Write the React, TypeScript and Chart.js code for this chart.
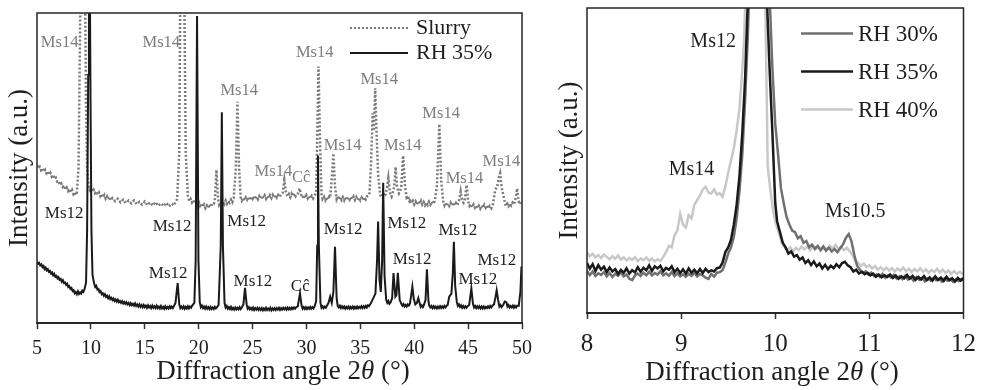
import React, { useEffect, useRef } from 'react';
import { Chart, registerables } from 'chart.js';

Chart.register(...registerables);

const SERIF = "'Liberation Serif', 'Times New Roman', serif";

type Pt = [number, number];

// ---------- Left panel (wide scan 5–50°) ----------
const wideTicks = [5, 10, 15, 20, 25, 30, 35, 40, 45, 50];

const rh35Wide: Pt[] = [
  [5.0, 19.8], [5.1, 19.1], [5.2, 19.4], [5.3, 18.6], [5.4, 18.9], [5.5, 18.0], [5.6, 18.4], [5.7, 17.4], [5.8, 17.9],
  [5.9, 17.0], [6.0, 17.4], [6.1, 16.5], [6.2, 16.8], [6.3, 15.9], [6.4, 16.3], [6.5, 15.4], [6.6, 15.9],
  [6.7, 14.9], [6.8, 15.2], [6.9, 14.4], [7.0, 14.8], [7.1, 13.9], [7.2, 14.2], [7.3, 13.3], [7.4, 13.8],
  [7.5, 12.9], [7.6, 13.1], [7.7, 12.3], [7.8, 12.7], [7.9, 11.6], [8.0, 11.9], [8.1, 11.0], [8.2, 11.3],
  [8.3, 10.3], [8.4, 10.6], [8.5, 9.6], [8.6, 10.0], [8.7, 9.3], [8.8, 10.2], [8.9, 9.4], [9.0, 9.9],
  [9.1, 9.5], [9.2, 10.4], [9.3, 10.0], [9.4, 10.8], [9.55, 13],
  [9.65, 30], [9.75, 80], [9.82, 112], [9.9, 112], [9.97, 70], [10.05, 30], [10.15, 15.5], [10.3, 12.8],
  [10.4, 11.6], [10.5, 12.0], [10.6, 10.8], [10.7, 11.0], [10.8, 10.0], [10.9, 10.3], [11.0, 9.3], [11.1, 9.6],
  [11.2, 8.8], [11.3, 9.3], [11.4, 8.4], [11.5, 8.8], [11.6, 8.0], [11.7, 8.6], [11.8, 7.7], [11.9, 8.1],
  [12.0, 7.4], [12.1, 7.9], [12.2, 7.1], [12.3, 7.6], [12.4, 6.9], [12.5, 7.5], [12.6, 6.7], [12.7, 7.1],
  [12.8, 6.5], [12.9, 7.0], [13.0, 6.3], [13.1, 6.8], [13.2, 6.2], [13.3, 6.7], [13.4, 6.0], [13.5, 6.5],
  [13.6, 5.8], [13.7, 6.4], [13.8, 5.7], [13.9, 6.2], [14.0, 5.6], [14.1, 6.3], [14.2, 5.5], [14.3, 6.0],
  [14.4, 5.3], [14.5, 6.0], [14.6, 5.2], [14.7, 5.8], [14.8, 5.1], [14.9, 5.8], [15.0, 5.1], [15.1, 5.6],
  [15.2, 4.9], [15.3, 5.7], [15.4, 5.0], [15.5, 5.5], [15.6, 4.8], [15.7, 5.6], [15.8, 4.9], [15.9, 5.4],
  [16.0, 4.8], [16.1, 5.6], [16.2, 4.8], [16.3, 5.3], [16.4, 4.7], [16.5, 5.5], [16.6, 4.7], [16.7, 5.2],
  [16.8, 4.6], [16.9, 5.4], [17.0, 4.7], [17.1, 5.2], [17.2, 4.7], [17.3, 5.4], [17.4, 4.8], [17.5, 5.3],
  [17.6, 4.8], [17.7, 5.4], [17.85, 6.5], [18.05, 12.9], [18.2, 6.0],
  [18.3, 4.8], [18.4, 5.3], [18.5, 4.7], [18.6, 5.4], [18.7, 4.6], [18.8, 5.2], [18.9, 4.7], [19.0, 5.4],
  [19.1, 4.7], [19.2, 5.3], [19.3, 4.9], [19.4, 5.6], [19.6, 6.5], [19.72, 20],
  [19.85, 99], [19.98, 20], [20.1, 6.8], [20.2, 5.1], [20.3, 5.6], [20.4, 4.8], [20.5, 5.3], [20.6, 4.6],
  [20.7, 5.3], [20.8, 4.6], [20.9, 5.1], [21.0, 4.5], [21.1, 5.2], [21.2, 4.5], [21.3, 5.0], [21.4, 4.5],
  [21.5, 5.2], [21.6, 4.7], [21.7, 5.1], [21.85, 5.8], [22.05, 25], [22.15, 68], [22.25, 25], [22.4, 6.5],
  [22.5, 5.0], [22.6, 5.5], [22.7, 4.6], [22.8, 5.1], [22.9, 4.5], [23.0, 5.2], [23.1, 4.4], [23.2, 4.9],
  [23.3, 4.3], [23.4, 5.0], [23.5, 4.4], [23.6, 4.9], [23.7, 4.4], [23.8, 5.1], [23.9, 4.5], [24.0, 5.0],
  [24.15, 6.0], [24.3, 11.3], [24.45, 6.0], [24.55, 4.6], [24.65, 5.1], [24.75, 4.4], [24.85, 4.9], [24.95, 4.3],
  [25.05, 5.0], [25.15, 4.2], [25.25, 4.8], [25.35, 4.3], [25.45, 4.9], [25.55, 4.2], [25.65, 4.8], [25.75, 4.2],
  [25.85, 4.8], [25.95, 4.1], [26.05, 4.7], [26.15, 4.2], [26.25, 4.9], [26.35, 4.2], [26.45, 4.7], [26.55, 4.2],
  [26.65, 4.9], [26.75, 4.1], [26.85, 4.7], [26.95, 4.2], [27.05, 4.8], [27.15, 4.2], [27.25, 4.8], [27.35, 4.3],
  [27.45, 4.9], [27.55, 4.2], [27.65, 4.8], [27.75, 4.3], [27.85, 4.9], [27.95, 4.4], [28.05, 4.9], [28.15, 4.3],
  [28.25, 5.0], [28.35, 4.4], [28.45, 4.9], [28.55, 4.4], [28.65, 5.0], [28.75, 4.5], [28.85, 5.0], [28.95, 4.6],
  [29.05, 5.1], [29.2, 5.4], [29.4, 9.6], [29.55, 5.6], [29.65, 4.6], [29.75, 5.1], [29.85, 4.5], [29.95, 5.1],
  [30.05, 4.5], [30.15, 5.0], [30.25, 4.6], [30.35, 5.2], [30.45, 4.6], [30.55, 5.1], [30.65, 4.7], [30.75, 5.3],
  [30.9, 7], [31.0, 25], [31.07, 54], [31.15, 25], [31.3, 6.5],
  [31.4, 4.9], [31.5, 5.4], [31.6, 4.8], [31.7, 5.3], [31.8, 4.9], [31.9, 5.6], [32.05, 6.5], [32.2, 8.5],
  [32.35, 6.5], [32.5, 10], [32.65, 24.6], [32.8, 8], [32.9, 5.5], [33.0, 5.0], [33.1, 5.6], [33.2, 4.8],
  [33.3, 5.4], [33.4, 4.8], [33.5, 5.3], [33.6, 4.6], [33.7, 5.2], [33.8, 4.7], [33.9, 5.3], [34.0, 4.6],
  [34.1, 5.2], [34.2, 4.7], [34.3, 5.3], [34.4, 4.6], [34.5, 5.2], [34.6, 4.7], [34.7, 5.3], [34.8, 4.7],
  [34.9, 5.2], [35.0, 4.8], [35.1, 5.4], [35.2, 4.8], [35.3, 5.4], [35.4, 4.9], [35.5, 5.5], [35.6, 5.0],
  [35.7, 5.7], [35.8, 5.4],
  [36.0, 6.5], [36.2, 8.0], [36.4, 9.5], [36.55, 20], [36.65, 32.7], [36.78, 14], [36.9, 10], [37.02, 20],
  [37.12, 45.2], [37.25, 15], [37.4, 7.5], [37.5, 6.5], [37.6, 7.1], [37.7, 6.2], [37.8, 6.6], [37.95, 8], [38.08, 16.1], [38.25, 8.5],
  [38.35, 9], [38.48, 16.2], [38.65, 7.5], [38.8, 6.2], [38.9, 5.6], [39.0, 6.1], [39.1, 5.3], [39.2, 5.8],
  [39.3, 5.3], [39.4, 6.0], [39.5, 5.6], [39.6, 6.2],
  [39.72, 9], [39.83, 11.7], [39.95, 8], [40.1, 6.0], [40.25, 6.5], [40.38, 8.0], [40.52, 6.2], [40.6, 5.2],
  [40.7, 5.7], [40.8, 5.1], [40.9, 5.8], [41.05, 7.5], [41.18, 17.3], [41.32, 7], [41.4, 5.5], [41.5, 5.0],
  [41.6, 5.5], [41.7, 4.8], [41.8, 5.4], [41.9, 4.8], [42.0, 5.3], [42.1, 4.7], [42.2, 5.3], [42.3, 4.8],
  [42.4, 5.4], [42.5, 4.8], [42.6, 5.4], [42.7, 4.9], [42.8, 5.5], [42.9, 5.0], [43.0, 5.6], [43.1, 5.8],
  [43.25, 8.5], [43.45, 9.5], [43.58, 16],
  [43.68, 26.2], [43.8, 12], [43.95, 6.8], [44.05, 5.5], [44.15, 6.0], [44.25, 5.2], [44.35, 5.7], [44.45, 4.9],
  [44.55, 5.5], [44.65, 4.9], [44.75, 5.4], [44.85, 4.9], [44.95, 5.4], [45.1, 5.8], [45.3, 11.2], [45.45, 6.2],
  [45.55, 5.0], [45.65, 5.5], [45.75, 4.8], [45.85, 5.4], [45.95, 4.8], [46.05, 5.4], [46.15, 4.7], [46.25, 5.3],
  [46.35, 4.7], [46.45, 5.3], [46.55, 4.7], [46.65, 5.2], [46.75, 4.8], [46.85, 5.4], [46.95, 4.9], [47.05, 5.5],
  [47.15, 5.0], [47.25, 5.6], [47.4, 6.0], [47.55, 8.5], [47.65, 10.6], [47.78, 7.5],
  [47.9, 5.3], [48.0, 5.8], [48.1, 5.1], [48.25, 5.8], [48.4, 6.9], [48.55, 6.7], [48.65, 5.3], [48.75, 5.8],
  [48.85, 5.0], [48.95, 5.5], [49.05, 5.0], [49.15, 5.6], [49.25, 4.9], [49.35, 5.5], [49.45, 5.0], [49.55, 5.6],
  [49.7, 5.6], [49.85, 10], [49.95, 18.2], [50.0, 16],
];

const slurryWide: Pt[] = [
  [5.0, 50.9], [5.125, 49.9], [5.25, 50.4], [5.375, 49.3], [5.5, 49.9], [5.625, 48.8], [5.75, 49.4], [5.875, 48.3],
  [6.0, 48.9], [6.125, 47.8], [6.25, 48.4], [6.375, 47.2], [6.5, 47.7], [6.625, 46.5], [6.75, 46.9], [6.875, 45.6],
  [7.0, 45.8], [7.125, 44.6], [7.25, 45.0], [7.375, 43.9], [7.5, 44.4], [7.625, 43.2], [7.75, 43.7], [7.875, 42.6],
  [8.0, 43.3], [8.125, 42.2], [8.25, 42.9], [8.375, 41.6], [8.5, 42.2], [8.6, 41.3], [8.7, 42.0],
  [8.85, 50], [8.95, 80], [9.05, 112], [9.45, 112], [9.55, 70], [9.65, 50], [9.8, 44],
  [9.9, 43.0], [10.0, 43.6], [10.125, 42.4], [10.25, 43.0], [10.375, 41.9], [10.5, 42.5], [10.625, 41.4], [10.75, 42.1],
  [10.875, 40.9], [11.0, 41.6], [11.125, 40.5], [11.25, 41.3], [11.375, 40.1], [11.5, 40.8], [11.625, 39.8], [11.75, 40.7],
  [11.875, 39.5], [12.0, 40.3], [12.25, 39.3], [12.5, 40.1], [12.75, 38.9], [13.0, 39.8], [13.25, 38.7], [13.5, 39.5],
  [13.75, 38.6], [14.0, 39.5], [14.25, 38.3], [14.5, 39.1], [14.75, 38.2], [15.0, 39.2], [15.25, 38.0], [15.5, 38.9],
  [15.75, 37.9], [16.0, 39.0], [16.25, 37.8], [16.5, 38.6], [16.75, 37.7], [17.0, 38.8], [17.25, 37.6], [17.5, 38.5],
  [17.7, 37.9], [17.85, 38.9],
  [18.0, 40], [18.2, 55], [18.3, 112], [18.65, 112], [18.8, 55], [19.0, 41],
  [19.125, 39.3], [19.25, 40.0], [19.375, 38.9], [19.5, 39.7], [19.625, 38.6], [19.75, 39.3], [19.875, 38.2], [20.0, 39.0],
  [20.125, 37.8], [20.25, 38.6], [20.375, 37.4], [20.5, 38.2], [20.625, 37.1], [20.75, 37.9], [20.875, 37.0], [21.0, 38.3],
  [21.125, 37.4], [21.25, 38.5], [21.4, 38.4], [21.5, 39.5], [21.65, 49.4], [21.8, 40], [21.9, 38.2], [22.0, 39.0],
  [22.125, 38.2], [22.25, 39.3], [22.375, 38.4], [22.5, 39.5], [22.625, 38.5], [22.75, 39.4], [22.875, 38.8], [23.0, 39.8],
  [23.125, 39.0], [23.25, 40.2], [23.45, 50], [23.6, 71.4], [23.75, 50], [23.9, 40.5], [24.0, 39.5], [24.125, 40.4],
  [24.25, 39.5], [24.375, 40.5], [24.5, 39.8], [24.625, 40.7], [24.75, 39.6], [24.875, 40.5], [25.0, 40.0], [25.125, 41.0],
  [25.25, 39.9], [25.375, 40.8], [25.5, 39.9], [25.625, 40.9], [25.75, 40.1], [25.875, 41.1], [26.0, 40.2], [26.125, 41.1],
  [26.25, 40.1], [26.375, 41.0], [26.5, 40.2], [26.625, 41.2], [26.75, 40.3], [26.875, 41.3], [27.0, 40.4], [27.125, 41.4],
  [27.25, 40.5], [27.375, 41.3], [27.5, 40.6], [27.65, 41.6], [27.8, 42], [27.95, 46.1], [28.1, 42], [28.25, 40.8],
  [28.375, 41.6], [28.5, 40.6], [28.625, 41.7], [28.75, 40.9], [28.875, 41.8], [29.0, 40.9], [29.125, 41.5], [29.25, 42],
  [29.37, 43.4], [29.5, 41.5], [29.625, 40.4], [29.75, 41.3], [29.875, 40.3], [30.0, 41.2], [30.125, 40.2], [30.25, 41.0],
  [30.375, 40.1], [30.5, 41.0], [30.625, 40.2], [30.75, 41.1], [30.9, 42], [31.0, 60], [31.12, 82.7], [31.25, 60],
  [31.4, 41.5], [31.5, 40.0], [31.625, 40.7], [31.75, 39.6], [31.875, 40.6], [32.0, 39.8], [32.125, 40.8], [32.2, 40.5],
  [32.38, 48], [32.5, 54.7], [32.65, 44], [32.8, 40.0], [32.9, 40.9], [33.0, 39.8], [33.125, 40.7], [33.25, 39.7],
  [33.375, 40.6], [33.5, 39.6], [33.625, 40.6], [33.75, 39.6], [33.875, 40.5], [34.0, 39.8], [34.125, 40.7], [34.25, 39.9],
  [34.375, 40.8], [34.5, 39.7], [34.625, 40.6], [34.75, 39.6], [34.875, 40.5], [35.0, 39.6], [35.125, 40.5], [35.25, 39.7],
  [35.375, 40.6], [35.5, 39.9], [35.6, 40.8], [35.75, 41.0], [35.85, 42], [36.0, 52], [36.15, 67.7], [36.25, 62],
  [36.38, 75.7], [36.5, 62], [36.65, 48], [36.84, 41.3], [36.95, 40.6], [37.1, 42], [37.2, 40.9], [37.35, 41.5],
  [37.5, 44], [37.6, 46.7], [37.75, 42], [37.9, 40.8], [38.0, 41.9], [38.15, 44], [38.27, 50.3], [38.4, 44],
  [38.58, 41.8], [38.7, 42.5], [38.8, 44], [38.97, 54], [39.15, 44], [39.3, 40.4], [39.43, 40.8], [39.55, 39.4],
  [39.65, 40.0], [39.75, 38.6], [39.875, 39.4], [40.0, 38.3], [40.125, 39.2], [40.25, 38.2], [40.375, 39.3], [40.5, 38.4],
  [40.625, 39.4], [40.75, 38.2], [40.875, 39.0], [41.0, 38.0], [41.125, 38.9], [41.25, 38.1], [41.375, 39.1], [41.5, 38.2],
  [41.625, 39.2], [41.75, 38.4], [41.9, 39.3], [42.1, 44], [42.33, 64.2], [42.5, 46], [42.7, 39.0], [42.8, 38.0],
  [42.875, 38.8], [43.0, 37.7], [43.125, 38.6], [43.25, 37.8], [43.375, 38.8], [43.5, 37.9], [43.625, 38.9], [43.75, 37.9],
  [43.875, 38.7], [44.0, 38.0], [44.1, 38.9], [44.2, 40], [44.31, 42.4], [44.45, 39.5], [44.575, 38.8], [44.7, 40],
  [44.86, 44.5], [45.0, 39.4], [45.125, 37.8], [45.25, 38.4], [45.375, 37.3], [45.5, 38.2], [45.625, 37.2], [45.75, 37.9],
  [45.875, 37.0], [46.0, 37.8], [46.125, 36.9], [46.25, 37.9], [46.375, 37.1], [46.5, 38.1], [46.625, 37.2], [46.75, 37.9],
  [46.875, 36.9], [47.0, 37.7], [47.15, 37.0], [47.3, 38.2], [47.51, 42.9], [47.7, 44], [47.85, 47], [47.97, 48.3],
  [48.1, 44], [48.2, 42.4], [48.4, 39], [48.5, 37.7], [48.625, 38.5], [48.75, 37.7], [48.875, 38.6], [49.0, 37.9],
  [49.125, 38.8], [49.25, 38.2], [49.35, 39.3], [49.45, 41], [49.55, 43.4], [49.65, 40.5], [49.75, 38.3], [49.85, 39.1],
  [50.0, 38.7],
];

// peak labels: [2θ, intensity]
const wideMs14Labels: Pt[] = [
  [7.1, 90.3], [16.53, 90.3], [23.76, 74.9], [26.93, 48.8], [30.77, 87.2], [33.36, 57.1],
  [36.75, 78.6], [38.94, 57.1], [42.5, 67.6], [44.66, 46.7], [48.09, 52.0],
];
const wideCcSlurryLabel: Pt = [29.52, 46.8];
const wideMs12Labels: Pt[] = [
  [7.52, 35.4], [17.53, 31.1], [24.46, 32.7], [17.17, 15.8], [25.04, 13.5], [33.41, 30.2],
  [39.31, 32.2], [39.81, 20.5], [44.04, 29.8], [45.9, 13.9], [47.66, 20.3],
];
const wideCcRh35Label: Pt = [29.43, 11.7];

// ---------- Right panel (zoom 8–12°) ----------
const zoomTicks = [8, 9, 10, 11, 12];

const rh30Zoom: Pt[] = [
  [8.0, 13.8], [8.03, 12.4], [8.06, 13.6], [8.09, 12.1], [8.12, 13.0], [8.15, 12.5], [8.18, 13.4], [8.21, 12.0],
  [8.24, 13.1], [8.27, 11.8], [8.3, 12.9], [8.33, 12.2], [8.36, 13.3], [8.39, 12.0], [8.42, 12.6], [8.45, 11.2],
  [8.48, 10.8], [8.51, 12.3], [8.54, 12.9], [8.57, 12.1], [8.6, 13.2], [8.63, 12.4], [8.66, 13.5], [8.69, 12.3],
  [8.72, 13.1], [8.75, 12.6], [8.78, 13.7], [8.81, 12.4], [8.84, 13.0], [8.87, 12.2], [8.9, 13.4], [8.93, 12.1],
  [8.96, 13.0], [8.99, 12.0], [9.02, 12.7], [9.05, 11.9], [9.08, 12.9], [9.11, 12.2], [9.14, 13.1], [9.17, 12.0],
  [9.2, 12.8], [9.23, 12.3], [9.26, 11.6], [9.29, 11.2], [9.32, 12.8], [9.35, 11.9], [9.38, 13.2], [9.41, 13.4],
  [9.44, 14.0], [9.47, 16.5], [9.5, 19.5], [9.53, 21.5], [9.56, 25.0], [9.59, 31.0], [9.62, 40.0], [9.65, 52.0],
  [9.68, 70.0], [9.71, 92], [9.73, 112], [9.93, 112], [9.97, 80], [10.0, 62], [10.03, 52], [10.06, 41],
  [10.09, 36], [10.12, 31.5], [10.15, 29.0], [10.18, 27.0], [10.21, 26.5], [10.24, 24.5], [10.27, 25.2], [10.3, 23.0],
  [10.33, 23.6], [10.36, 21.6], [10.39, 22.4], [10.42, 21.0], [10.45, 22.0], [10.48, 20.6], [10.51, 21.8], [10.54, 20.4],
  [10.57, 21.4], [10.6, 20.2], [10.63, 21.0], [10.66, 19.9], [10.69, 21.2], [10.72, 22.5], [10.75, 24.6], [10.78, 25.9],
  [10.81, 23.5], [10.84, 19.0], [10.87, 15.5], [10.9, 14.1], [10.93, 13.2], [10.96, 13.7], [10.99, 12.6], [11.02, 13.2],
  [11.05, 12.1], [11.08, 12.7], [11.11, 11.9], [11.14, 12.8], [11.17, 11.5], [11.2, 12.4], [11.23, 11.6], [11.26, 12.5],
  [11.29, 11.3], [11.32, 12.0], [11.35, 11.1], [11.38, 12.2], [11.41, 11.0], [11.44, 11.7], [11.47, 10.6], [11.5, 11.8],
  [11.53, 10.9], [11.56, 11.6], [11.59, 10.4], [11.62, 11.3], [11.65, 10.6], [11.68, 11.5], [11.71, 10.7], [11.74, 11.2],
  [11.77, 10.3], [11.8, 11.4], [11.83, 10.6], [11.86, 11.1], [11.89, 10.2], [11.92, 11.0], [11.95, 10.4], [11.98, 11.2],
  [12.0, 10.6],
];

const rh35Zoom: Pt[] = [
  [8.0, 16.4], [8.03, 14.5], [8.06, 16.0], [8.09, 13.8], [8.12, 15.7], [8.15, 14.2], [8.18, 15.2], [8.21, 13.4],
  [8.24, 14.9], [8.27, 13.6], [8.3, 14.4], [8.33, 12.8], [8.36, 14.1], [8.39, 13.2], [8.42, 14.6], [8.45, 12.9],
  [8.48, 14.0], [8.51, 13.3], [8.54, 15.0], [8.57, 13.5], [8.6, 14.8], [8.63, 14.0], [8.66, 15.6], [8.69, 13.8],
  [8.72, 15.3], [8.75, 14.6], [8.78, 15.5], [8.81, 13.7], [8.84, 14.8], [8.87, 14.2], [8.9, 15.3], [8.93, 13.4],
  [8.96, 14.5], [8.99, 13.1], [9.02, 14.3], [9.05, 12.9], [9.08, 14.6], [9.11, 13.2], [9.14, 14.2], [9.17, 13.0],
  [9.2, 14.4], [9.23, 13.1], [9.26, 14.5], [9.29, 13.4], [9.32, 14.0], [9.35, 13.6], [9.38, 14.7], [9.41, 14.9],
  [9.44, 16.5], [9.47, 20.0], [9.5, 21.5], [9.53, 24.0], [9.56, 29.0], [9.59, 35.5], [9.62, 45.0], [9.65, 59.0],
  [9.68, 77.0], [9.7, 95], [9.72, 112], [9.9, 112], [9.94, 80], [9.97, 59], [10.0, 36], [10.02, 30],
  [10.05, 26.5], [10.08, 23.0], [10.11, 21.5], [10.14, 19.5], [10.17, 20.2], [10.2, 18.5], [10.23, 19.0], [10.26, 17.5],
  [10.29, 18.2], [10.32, 16.4], [10.35, 17.3], [10.38, 15.7], [10.41, 16.9], [10.44, 15.3], [10.47, 16.2], [10.5, 14.6],
  [10.53, 15.8], [10.56, 14.4], [10.59, 15.5], [10.62, 14.7], [10.65, 16.0], [10.68, 15.0], [10.71, 16.4], [10.74, 16.8],
  [10.77, 15.6], [10.8, 15.0], [10.83, 13.6], [10.86, 14.2], [10.89, 12.9], [10.92, 13.5], [10.95, 12.7], [10.98, 13.2],
  [11.01, 12.3], [11.04, 12.9], [11.07, 11.9], [11.1, 12.6], [11.13, 11.7], [11.16, 12.4], [11.19, 11.8], [11.22, 12.6],
  [11.25, 11.5], [11.28, 12.3], [11.31, 11.2], [11.34, 12.0], [11.37, 11.4], [11.4, 12.5], [11.43, 11.3], [11.46, 12.2],
  [11.49, 10.9], [11.52, 11.8], [11.55, 11.0], [11.58, 12.1], [11.61, 10.8], [11.64, 11.7], [11.67, 10.6], [11.7, 12.0],
  [11.73, 10.8], [11.76, 11.6], [11.79, 10.5], [11.82, 11.9], [11.85, 10.7], [11.88, 11.4], [11.91, 10.3], [11.94, 11.5],
  [11.97, 10.6], [12.0, 11.4],
];

const rh40Zoom: Pt[] = [
  [8.0, 19.8], [8.03, 18.6], [8.06, 19.4], [8.09, 18.2], [8.12, 19.0], [8.15, 18.0], [8.18, 19.2], [8.21, 18.4],
  [8.24, 17.6], [8.27, 18.6], [8.3, 17.8], [8.33, 18.9], [8.36, 17.5], [8.39, 18.3], [8.42, 17.2], [8.45, 18.1],
  [8.48, 17.4], [8.51, 18.3], [8.54, 17.0], [8.57, 17.9], [8.6, 17.3], [8.63, 18.2], [8.66, 17.1], [8.69, 17.8],
  [8.72, 16.9], [8.75, 17.6], [8.78, 17.0], [8.81, 18.4], [8.84, 20.0], [8.87, 22.0], [8.9, 21.5], [8.93, 25.5],
  [8.96, 27.0], [8.99, 32.5], [9.02, 29.0], [9.05, 28.0], [9.08, 32.0], [9.11, 31.0], [9.14, 35.5], [9.17, 37.0],
  [9.2, 38.5], [9.23, 40.5], [9.26, 41.4], [9.29, 39.5], [9.32, 39.2], [9.35, 40.5], [9.38, 38.8], [9.41, 39.3],
  [9.44, 38.1], [9.47, 41.5], [9.5, 46.0], [9.53, 50.0], [9.56, 54.0], [9.59, 60.0], [9.62, 67.0], [9.65, 80.0],
  [9.67, 90], [9.69, 112], [9.89, 112], [9.92, 48], [9.95, 40], [9.98, 33], [10.01, 29], [10.04, 26],
  [10.07, 23.0], [10.1, 21.5], [10.13, 20.7], [10.16, 21.5], [10.19, 20.2], [10.22, 21.4], [10.25, 20.6], [10.28, 21.8],
  [10.31, 20.9], [10.34, 21.9], [10.37, 20.5], [10.4, 22.0], [10.43, 21.0], [10.46, 21.8], [10.49, 20.6], [10.52, 21.5],
  [10.55, 20.8], [10.58, 22.0], [10.61, 21.2], [10.64, 22.3], [10.67, 21.0], [10.7, 21.8], [10.73, 20.6], [10.76, 21.4],
  [10.79, 20.3], [10.82, 19.0], [10.85, 17.0], [10.88, 16.5], [10.91, 15.5], [10.94, 16.2], [10.97, 15.0], [11.0, 15.7],
  [11.03, 14.6], [11.06, 15.4], [11.09, 14.2], [11.12, 15.0], [11.15, 14.0], [11.18, 14.9], [11.21, 13.9], [11.24, 14.7],
  [11.27, 13.6], [11.3, 14.6], [11.33, 13.8], [11.36, 14.9], [11.39, 13.7], [11.42, 14.5], [11.45, 13.4], [11.48, 14.4],
  [11.51, 13.6], [11.54, 14.7], [11.57, 13.5], [11.6, 14.3], [11.63, 13.2], [11.66, 14.1], [11.69, 13.4], [11.72, 14.5],
  [11.75, 13.3], [11.78, 14.2], [11.81, 13.1], [11.84, 13.9], [11.87, 12.9], [11.9, 13.7], [11.93, 12.8], [11.96, 13.5],
  [12.0, 12.6],
];

const zoomLabelText = ['Ms12', 'Ms14', 'Ms10.5'];
const zoomLabelPos: Pt[] = [[9.34, 89.0], [9.11, 47.1], [10.85, 33.2]];

// ---------- helpers ----------
const toXY = (pts: Pt[]) => pts.map(([x, y]) => ({ x, y }));

type TextMark = { text: string; at: Pt; color: string; size: number };
type LegendRow = { text: string; color: string; dash: number[]; width: number; x1: number; x2: number; y: number; tx: number; ty: number };

function overlayPlugin(cfg: {
  marks: TextMark[];
  legend: LegendRow[];
  legendSize: number;
  titleCx: number;
  titleCy: number;
  titleSize: number;
}) {
  return {
    id: 'overlay',
    afterDatasetsDraw(chart: any) {
      const { ctx, chartArea } = chart;
      const xs = chart.scales.x;
      const ys = chart.scales.y;
      ctx.save();
      ctx.strokeStyle = '#262626';
      ctx.lineWidth = 1.5;
      ctx.setLineDash([]);
      ctx.strokeRect(chartArea.left, chartArea.top, chartArea.right - chartArea.left, chartArea.bottom - chartArea.top);
      ctx.textAlign = 'center';
      ctx.textBaseline = 'middle';
      for (const m of cfg.marks) {
        ctx.font = `${m.size}px ${SERIF}`;
        ctx.fillStyle = m.color;
        ctx.fillText(m.text, xs.getPixelForValue(m.at[0]), ys.getPixelForValue(m.at[1]));
      }
      ctx.restore();
    },
    afterDraw(chart: any) {
      const { ctx } = chart;
      ctx.save();
      ctx.font = `${cfg.legendSize}px ${SERIF}`;
      ctx.textAlign = 'left';
      ctx.textBaseline = 'middle';
      for (const r of cfg.legend) {
        ctx.beginPath();
        ctx.strokeStyle = r.color;
        ctx.lineWidth = r.width;
        ctx.setLineDash(r.dash);
        ctx.moveTo(r.x1, r.y);
        ctx.lineTo(r.x2, r.y);
        ctx.stroke();
        ctx.setLineDash([]);
        ctx.fillStyle = '#1e1e1e';
        ctx.fillText(r.text, r.tx, r.ty);
      }
      const partA = 'Diffraction angle 2';
      const partB = '\u03b8';
      const partC = ' (\u00b0)';
      const fN = `${cfg.titleSize}px ${SERIF}`;
      const fI = `italic ${cfg.titleSize}px ${SERIF}`;
      ctx.font = fN;
      const wA = ctx.measureText(partA).width;
      const wC = ctx.measureText(partC).width;
      ctx.font = fI;
      const wB = ctx.measureText(partB).width;
      let x = cfg.titleCx - (wA + wB + wC) / 2;
      ctx.fillStyle = '#1e1e1e';
      ctx.font = fN;
      ctx.fillText(partA, x, cfg.titleCy);
      x += wA;
      ctx.font = fI;
      ctx.fillText(partB, x, cfg.titleCy);
      x += wB;
      ctx.font = fN;
      ctx.fillText(partC, x, cfg.titleCy);
      ctx.restore();
    },
  };
}

function xScale(min: number, max: number, ticks: number[], height: number, fontSize: number, pad: number) {
  return {
    type: 'linear',
    min,
    max,
    afterBuildTicks: (s: any) => {
      s.ticks = ticks.map((v) => ({ value: v }));
    },
    afterFit: (s: any) => {
      s.height = height;
    },
    grid: { display: true, drawOnChartArea: false, drawTicks: true, tickLength: 6, tickColor: '#333', tickWidth: 1.5 },
    border: { display: true, color: '#333', width: 2 },
    ticks: { font: { family: SERIF, size: fontSize }, color: '#1e1e1e', padding: pad, maxRotation: 0, autoSkip: false },
    title: { display: false },
  };
}

function yScale(width: number, titlePad: number) {
  return {
    type: 'linear',
    min: 0,
    max: 100,
    afterFit: (s: any) => {
      s.width = width;
    },
    grid: { display: false },
    border: { display: false },
    ticks: { display: false },
    title: {
      display: true,
      text: 'Intensity (a.u.)',
      font: { family: SERIF, size: 27 },
      color: '#1e1e1e',
      padding: { top: titlePad, bottom: 0 },
    },
  };
}

export default function App() {
  const leftRef = useRef<HTMLCanvasElement>(null);
  const rightRef = useRef<HTMLCanvasElement>(null);

  useEffect(() => {
    const grayLabel = '#7d7d7d';
    const blackLabel = '#1e1e1e';

    const leftMarks: TextMark[] = [
      ...wideMs14Labels.map((p) => ({ text: 'Ms14', at: p, color: grayLabel, size: 16.5 })),
      { text: 'C\u0109', at: wideCcSlurryLabel, color: grayLabel, size: 16.5 },
      ...wideMs12Labels.map((p) => ({ text: 'Ms12', at: p, color: blackLabel, size: 17 })),
      { text: 'C\u0109', at: wideCcRh35Label, color: blackLabel, size: 17 },
    ];

    const left = new Chart(leftRef.current as HTMLCanvasElement, {
      type: 'line',
      data: {
        datasets: [
          {
            label: 'RH 35%',
            data: toXY(rh35Wide),
            borderColor: '#1a1a1a',
            borderWidth: 2,
            pointRadius: 0,
            tension: 0,
            order: 0,
            clip: 0,
          },
          {
            label: 'Slurry',
            data: toXY(slurryWide),
            borderColor: '#7a7a7a',
            borderWidth: 2.5,
            borderDash: [2, 2],
            pointRadius: 0,
            tension: 0,
            order: 1,
            clip: 0,
          },
        ],
      } as any,
      options: {
        animation: false,
        responsive: false,
        devicePixelRatio: 1,
        events: [],
        layout: { padding: { left: 0, top: 13, right: 11, bottom: 0 } },
        plugins: { legend: { display: false }, tooltip: { enabled: false } },
        scales: {
          x: xScale(5, 50, wideTicks, 67, 20, 8),
          y: yScale(37, 4),
        },
      } as any,
      plugins: [
        overlayPlugin({
          marks: leftMarks,
          legend: [
            { text: 'Slurry', color: '#7a7a7a', dash: [2, 2], width: 2, x1: 350, x2: 408, y: 28, tx: 416, ty: 28 },
            { text: 'RH 35%', color: '#1a1a1a', dash: [], width: 2, x1: 350, x2: 408, y: 53, tx: 416, ty: 53 },
          ],
          legendSize: 22,
          titleCx: 283,
          titleCy: 372,
          titleSize: 27,
        }),
      ],
    });

    const rightMarks: TextMark[] = zoomLabelText.map((t, i) => ({
      text: t,
      at: zoomLabelPos[i],
      color: blackLabel,
      size: 20,
    }));

    const right = new Chart(rightRef.current as HTMLCanvasElement, {
      type: 'line',
      data: {
        datasets: [
          { label: 'RH 30%', data: toXY(rh30Zoom), borderColor: '#707070', borderWidth: 2.5, pointRadius: 0, tension: 0, order: 1, clip: 0 },
          { label: 'RH 35%', data: toXY(rh35Zoom), borderColor: '#1a1a1a', borderWidth: 2.5, pointRadius: 0, tension: 0, order: 0, clip: 0 },
          { label: 'RH 40%', data: toXY(rh40Zoom), borderColor: '#c8c8c8', borderWidth: 2.5, pointRadius: 0, tension: 0, order: 2, clip: 0 },
        ],
      } as any,
      options: {
        animation: false,
        responsive: false,
        devicePixelRatio: 1,
        events: [],
        layout: { padding: { left: 0, top: 8, right: 20, bottom: 0 } },
        plugins: { legend: { display: false }, tooltip: { enabled: false } },
        scales: {
          x: xScale(8, 12, zoomTicks, 77, 25, 10),
          y: yScale(47, 14),
        },
      } as any,
      plugins: [
        overlayPlugin({
          marks: rightMarks,
          legend: [
            { text: 'RH 30%', color: '#707070', dash: [], width: 2.5, x1: 261, x2: 313, y: 33.5, tx: 318, ty: 35 },
            { text: 'RH 35%', color: '#1a1a1a', dash: [], width: 2.5, x1: 261, x2: 313, y: 71.5, tx: 318, ty: 73 },
            { text: 'RH 40%', color: '#c8c8c8', dash: [], width: 2.5, x1: 261, x2: 313, y: 109.5, tx: 318, ty: 111 },
          ],
          legendSize: 23,
          titleCx: 232,
          titleCy: 373,
          titleSize: 27,
        }),
      ],
    });

    return () => {
      left.destroy();
      right.destroy();
    };
  }, []);

  return (
    <div style={{ position: 'absolute', left: 0, top: 0, width: 986, height: 390, background: '#fff' }}>
      <canvas
        ref={leftRef}
        width={540}
        height={390}
        style={{ position: 'absolute', left: 0, top: 0, width: 540, height: 390, display: 'block' }}
      />
      <canvas
        ref={rightRef}
        width={446}
        height={390}
        style={{ position: 'absolute', left: 540, top: 0, width: 446, height: 390, display: 'block' }}
      />
    </div>
  );
}
